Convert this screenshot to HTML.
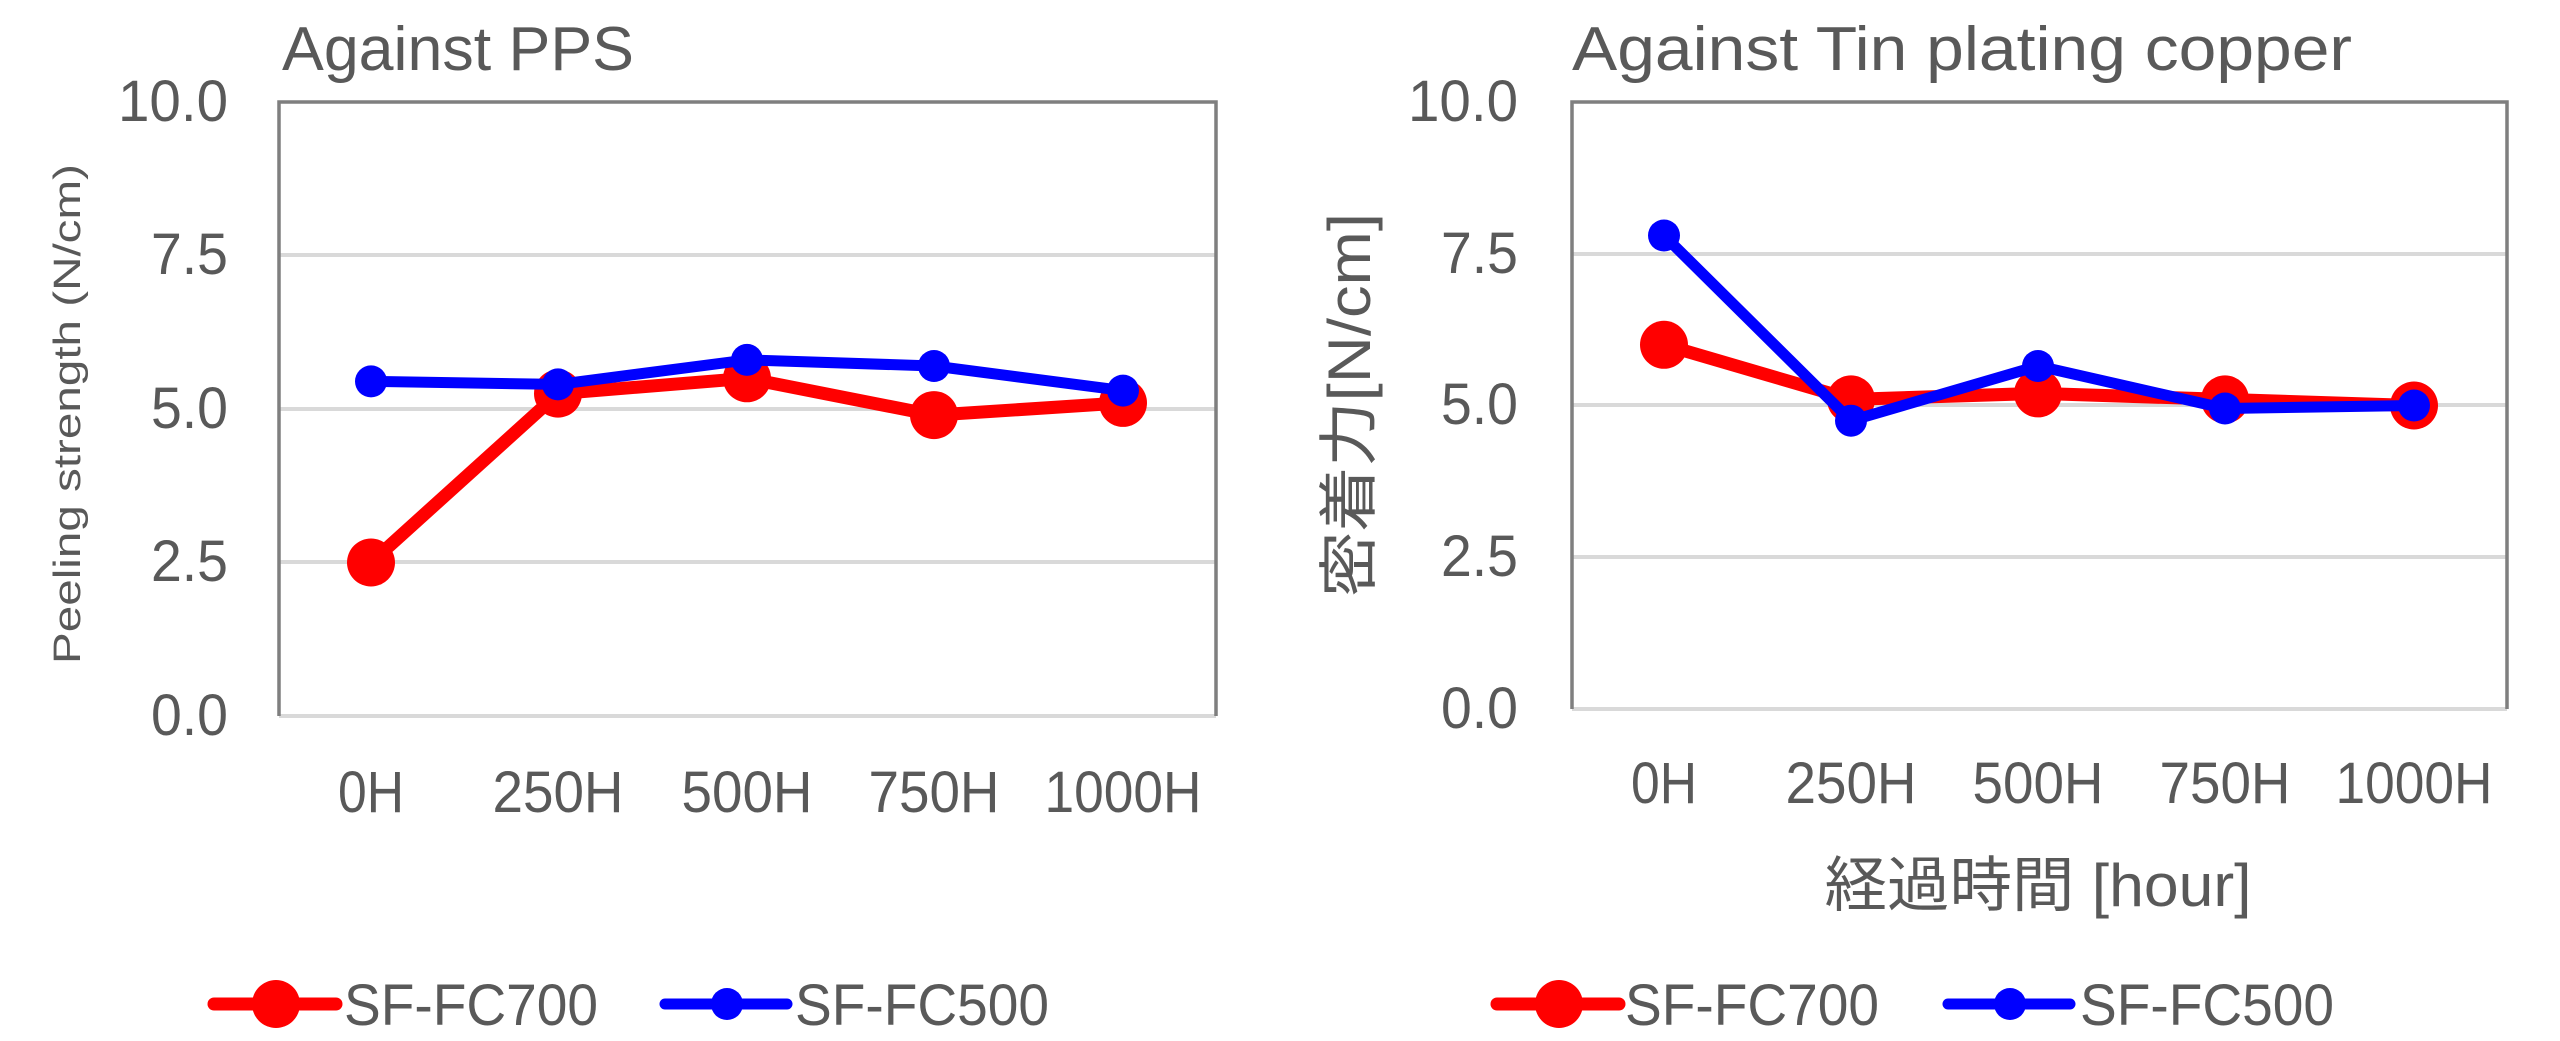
<!DOCTYPE html>
<html><head><meta charset="utf-8"><style>
html,body{margin:0;padding:0;background:#fff;}
svg{display:block;}
text{font-family:"Liberation Sans","Noto Sans CJK JP",sans-serif;fill:#595959;}
</style></head><body>
<svg width="2560" height="1041" viewBox="0 0 2560 1041" xmlns="http://www.w3.org/2000/svg">
<!-- LEFT CHART -->
<g stroke="#d9d9d9" stroke-width="4">
<line x1="279" y1="255" x2="1216" y2="255"/>
<line x1="279" y1="409" x2="1216" y2="409"/>
<line x1="279" y1="562" x2="1216" y2="562"/>
<line x1="279" y1="716" x2="1216" y2="716"/>
</g>
<path d="M279 716 V102 H1216 V716" fill="none" stroke="#7f7f7f" stroke-width="3.5"/>
<g font-size="58" text-anchor="end">
<text x="228" y="121" textLength="110" lengthAdjust="spacingAndGlyphs">10.0</text>
<text x="228" y="274" textLength="77" lengthAdjust="spacingAndGlyphs">7.5</text>
<text x="228" y="428" textLength="77" lengthAdjust="spacingAndGlyphs">5.0</text>
<text x="228" y="581" textLength="77" lengthAdjust="spacingAndGlyphs">2.5</text>
<text x="228" y="735" textLength="77" lengthAdjust="spacingAndGlyphs">0.0</text>
</g>
<g font-size="58" text-anchor="middle">
<text x="371" y="812" textLength="66" lengthAdjust="spacingAndGlyphs">0H</text>
<text x="558" y="812" textLength="131" lengthAdjust="spacingAndGlyphs">250H</text>
<text x="747" y="812" textLength="131" lengthAdjust="spacingAndGlyphs">500H</text>
<text x="934" y="812" textLength="131" lengthAdjust="spacingAndGlyphs">750H</text>
<text x="1123" y="812" textLength="157" lengthAdjust="spacingAndGlyphs">1000H</text>
</g>
<text x="282" y="70" font-size="62" textLength="352" lengthAdjust="spacingAndGlyphs">Against PPS</text>
<text transform="translate(80,414) rotate(-90)" font-size="38" text-anchor="middle" textLength="500" lengthAdjust="spacingAndGlyphs">Peeling strength (N/cm)</text>
<polyline points="371,562.5 558,393.6 747,378.3 934,415.1 1123,402.9" fill="none" stroke="#ff0000" stroke-width="13" stroke-linejoin="round"/>
<g fill="#ff0000">
<circle cx="371" cy="562.5" r="24"/><circle cx="558" cy="393.6" r="24"/><circle cx="747" cy="378.3" r="24"/><circle cx="934" cy="415.1" r="24"/><circle cx="1123" cy="402.9" r="24"/>
</g>
<polyline points="371,381.4 558,384.4 747,359.9 934,366 1123,390.6" fill="none" stroke="#0000ff" stroke-width="11" stroke-linejoin="round"/>
<g fill="#0000ff">
<circle cx="371" cy="381.4" r="16"/><circle cx="558" cy="384.4" r="16"/><circle cx="747" cy="359.9" r="16"/><circle cx="934" cy="366" r="16"/><circle cx="1123" cy="390.6" r="16"/>
</g>
<!-- left legend -->
<line x1="214" y1="1004" x2="336" y2="1004" stroke="#ff0000" stroke-width="13" stroke-linecap="round"/>
<circle cx="276" cy="1004" r="24" fill="#ff0000"/>
<text x="344" y="1025" font-size="58" textLength="254" lengthAdjust="spacingAndGlyphs">SF-FC700</text>
<line x1="665" y1="1004" x2="787" y2="1004" stroke="#0000ff" stroke-width="11" stroke-linecap="round"/>
<circle cx="727" cy="1004" r="16" fill="#0000ff"/>
<text x="795" y="1025" font-size="58" textLength="254" lengthAdjust="spacingAndGlyphs">SF-FC500</text>

<!-- RIGHT CHART -->
<g stroke="#d9d9d9" stroke-width="4">
<line x1="1572" y1="254" x2="2507" y2="254"/>
<line x1="1572" y1="405" x2="2507" y2="405"/>
<line x1="1572" y1="557" x2="2507" y2="557"/>
<line x1="1572" y1="709" x2="2507" y2="709"/>
</g>
<path d="M1572 709 V102 H2507 V709" fill="none" stroke="#7f7f7f" stroke-width="3.5"/>
<g font-size="58" text-anchor="end">
<text x="1518" y="121" textLength="110" lengthAdjust="spacingAndGlyphs">10.0</text>
<text x="1518" y="273" textLength="77" lengthAdjust="spacingAndGlyphs">7.5</text>
<text x="1518" y="424" textLength="77" lengthAdjust="spacingAndGlyphs">5.0</text>
<text x="1518" y="576" textLength="77" lengthAdjust="spacingAndGlyphs">2.5</text>
<text x="1518" y="728" textLength="77" lengthAdjust="spacingAndGlyphs">0.0</text>
</g>
<g font-size="58" text-anchor="middle">
<text x="1664" y="803" textLength="66" lengthAdjust="spacingAndGlyphs">0H</text>
<text x="1851" y="803" textLength="131" lengthAdjust="spacingAndGlyphs">250H</text>
<text x="2038" y="803" textLength="131" lengthAdjust="spacingAndGlyphs">500H</text>
<text x="2225" y="803" textLength="131" lengthAdjust="spacingAndGlyphs">750H</text>
<text x="2414" y="803" textLength="157" lengthAdjust="spacingAndGlyphs">1000H</text>
</g>
<text x="1572" y="70" font-size="62" textLength="780" lengthAdjust="spacingAndGlyphs">Against Tin plating copper</text>
<text transform="translate(1370,405) rotate(-90)" font-size="60" text-anchor="middle" textLength="384" lengthAdjust="spacingAndGlyphs">密着力[N/cm]</text>
<text x="2038" y="906" font-size="60" text-anchor="middle" textLength="427" lengthAdjust="spacingAndGlyphs">経過時間 [hour]</text>
<polyline points="1664,344.8 1851,399.4 2038,393.4 2225,399.4 2414,405.5" fill="none" stroke="#ff0000" stroke-width="13" stroke-linejoin="round"/>
<g fill="#ff0000">
<circle cx="1664" cy="344.8" r="24"/><circle cx="1851" cy="399.4" r="24"/><circle cx="2038" cy="393.4" r="24"/><circle cx="2225" cy="399.4" r="24"/><circle cx="2414" cy="405.5" r="24"/>
</g>
<polyline points="1664,235.5 1851,420.7 2038,366 2225,408.5 2414,405.5" fill="none" stroke="#0000ff" stroke-width="11" stroke-linejoin="round"/>
<g fill="#0000ff">
<circle cx="1664" cy="235.5" r="16"/><circle cx="1851" cy="420.7" r="16"/><circle cx="2038" cy="366" r="16"/><circle cx="2225" cy="408.5" r="16"/><circle cx="2414" cy="405.5" r="16"/>
</g>
<!-- right legend -->
<line x1="1497" y1="1004" x2="1619" y2="1004" stroke="#ff0000" stroke-width="13" stroke-linecap="round"/>
<circle cx="1559" cy="1004" r="24" fill="#ff0000"/>
<text x="1625" y="1025" font-size="58" textLength="254" lengthAdjust="spacingAndGlyphs">SF-FC700</text>
<line x1="1948" y1="1004" x2="2070" y2="1004" stroke="#0000ff" stroke-width="11" stroke-linecap="round"/>
<circle cx="2010" cy="1004" r="16" fill="#0000ff"/>
<text x="2080" y="1025" font-size="58" textLength="254" lengthAdjust="spacingAndGlyphs">SF-FC500</text>
</svg>
</body></html>
